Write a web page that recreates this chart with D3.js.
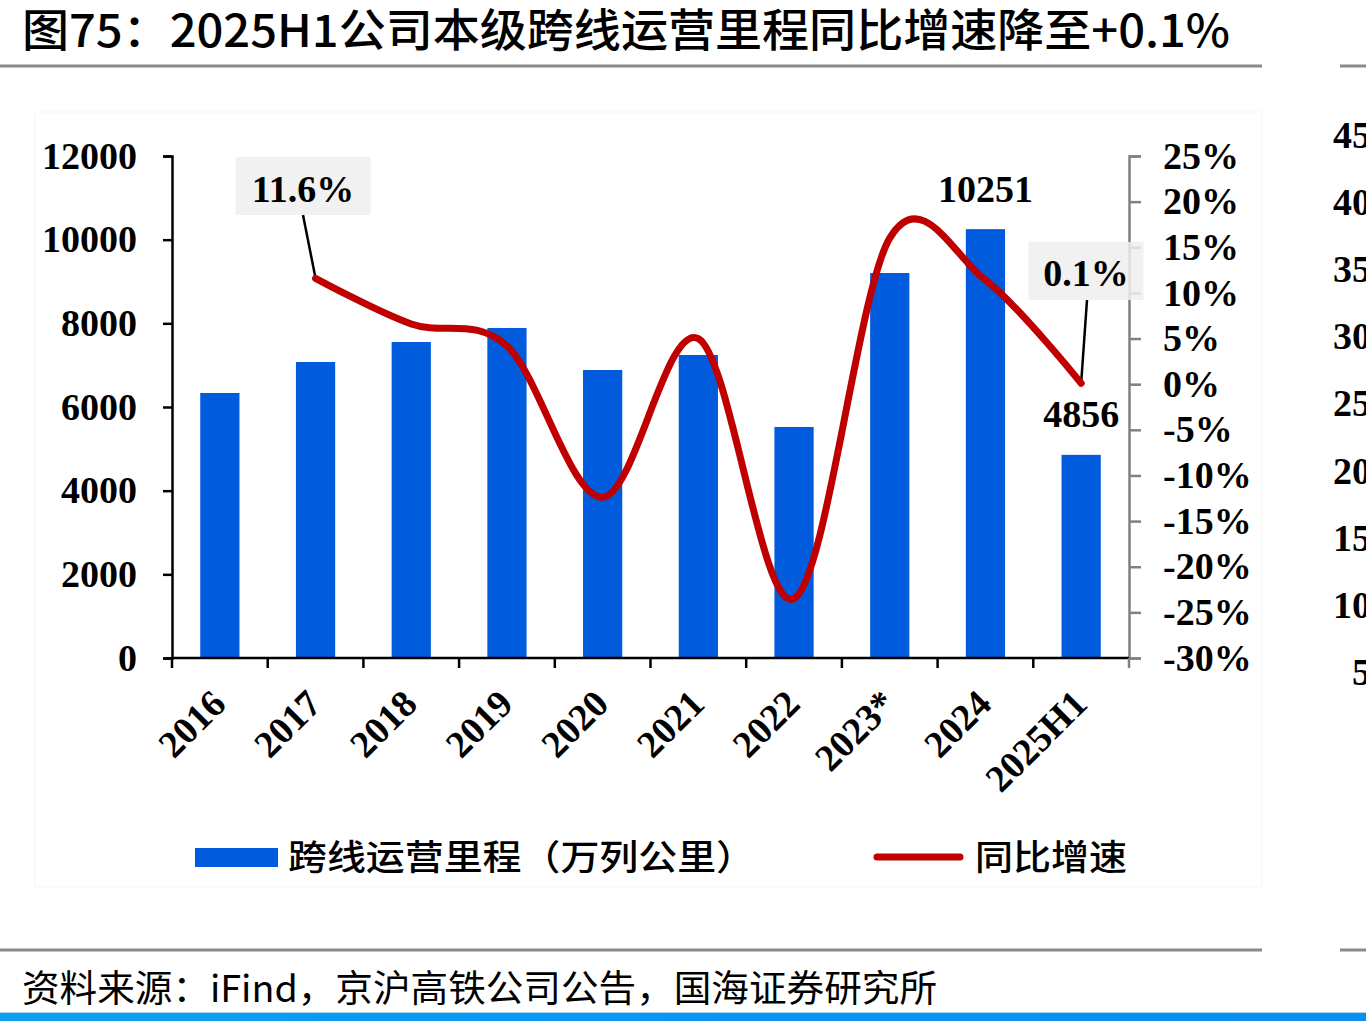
<!DOCTYPE html>
<html><head><meta charset="utf-8">
<script src="https://cdn.jsdelivr.net/npm/d3@7"></script>
<style>
html,body{margin:0;padding:0;background:#fff;overflow:hidden;}
svg{display:block;}
</style></head>
<body>
<svg id="c" width="1366" height="1021"></svg>
<script>
// ---- data ----
const categories = ["2016","2017","2018","2019","2020","2021","2022","2023*","2024","2025H1"];
const mileage = [6335, 7076, 7554, 7888, 6884, 7243, 5522, 9203, 10251, 4856];
const growth = [null, 0.116, 0.066, 0.042, -0.124, 0.050, -0.235, 0.160, 0.114, 0.001];
const leftTicks = [0, 2000, 4000, 6000, 8000, 10000, 12000];
const rightTicks = [-0.30, -0.25, -0.20, -0.15, -0.10, -0.05, 0, 0.05, 0.10, 0.15, 0.20, 0.25];
const nextChartTicks = ["45","40","35","30","25","20","15","10","5"];
const titleText = "图75：2025H1公司本级跨线运营里程同比增速降至+0.1%";
const sourceText = "资料来源：iFind，京沪高铁公司公告，国海证券研究所";
const legendBar = "跨线运营里程（万列公里）";
const legendLine = "同比增速";

const svg = d3.select("#c");
const serif = "'Liberation Serif','Times New Roman',serif";
const sans = "'Noto Sans CJK SC','Noto Sans',sans-serif";

// title & frame lines
svg.append("text").attr("x", 22).attr("y", 47).text(titleText)
  .attr("font-family", sans).attr("font-size", 45).attr("font-weight", 500)
  .attr("fill", "#000").attr("textLength", 1208).attr("lengthAdjust", "spacingAndGlyphs");
[[0,1262],[1340,1366]].forEach(([a,b]) => {
  svg.append("line").attr("x1", a).attr("x2", b).attr("y1", 66).attr("y2", 66).attr("stroke", "#8a8a8a").attr("stroke-width", 3);
  svg.append("line").attr("x1", a).attr("x2", b).attr("y1", 950).attr("y2", 950).attr("stroke", "#8a8a8a").attr("stroke-width", 3);
});
// chart area faint frame
svg.append("rect").attr("x", 35).attr("y", 112).attr("width", 1227).attr("height", 775)
  .attr("fill", "none").attr("stroke", "#f5f5f5").attr("stroke-width", 1);

// source
svg.append("text").attr("x", 22).attr("y", 1002).text(sourceText)
  .attr("font-family", sans).attr("font-size", 37).attr("fill", "#000")
  .attr("textLength", 915).attr("lengthAdjust", "spacingAndGlyphs");
// bottom blue bar
const grad = svg.append("defs").append("linearGradient").attr("id", "bb");
grad.append("stop").attr("offset", "0%").attr("stop-color", "#0aa0f0");
grad.append("stop").attr("offset", "100%").attr("stop-color", "#0a8ef0");
svg.append("rect").attr("x", 0).attr("y", 1013).attr("width", 1366).attr("height", 8).attr("fill", "url(#bb)");
svg.append("rect").attr("x", 0).attr("y", 1012).attr("width", 1366).attr("height", 1).attr("fill", "#9fd8f8");

// scales
const x = d3.scaleBand().domain(categories).range([172, 1129]).paddingInner(0.59).paddingOuter(0.295);
const yL = d3.scaleLinear().domain([0, 12000]).range([658, 156]);
const yR = d3.scaleLinear().domain([-0.30, 0.25]).range([658, 156]);
const cx = c => x(c) + x.bandwidth() / 2;

// bars
svg.append("g").selectAll("rect").data(categories).join("rect")
  .attr("x", c => x(c)).attr("width", x.bandwidth())
  .attr("y", (c, i) => yL(mileage[i])).attr("height", (c, i) => yL(0) - yL(mileage[i]))
  .attr("fill", "#005cdc");

// left axis
const gL = svg.append("g").attr("transform", "translate(172,0)")
  .call(d3.axisLeft(yL).tickValues(leftTicks).tickSize(9).tickPadding(26).tickFormat(d3.format("d")));
gL.select(".domain").attr("stroke", "#000").attr("stroke-width", 2.5);
gL.selectAll(".tick line").attr("stroke", "#000").attr("stroke-width", 2.5);
gL.selectAll(".tick text").attr("font-family", serif).attr("font-weight", "bold").attr("font-size", 38).attr("fill", "#000");

// right axis
const gR = svg.append("g").attr("transform", "translate(1129,0)")
  .call(d3.axisRight(yR).tickValues(rightTicks).tickSize(12).tickPadding(22)
    .tickFormat(v => (v < 0 ? "-" : "") + Math.round(Math.abs(v) * 100) + "%"));
gR.select(".domain").attr("stroke", "#808080").attr("stroke-width", 2.5);
gR.selectAll(".tick line").attr("stroke", "#808080").attr("stroke-width", 2.5);
gR.selectAll(".tick text").attr("font-family", serif).attr("font-weight", "bold").attr("font-size", 38).attr("fill", "#000");

// x axis
const step = x.step();
const edges = d3.range(categories.length + 1).map(i => x.range()[0] + i * step);
svg.append("line").attr("x1", 172).attr("x2", 1129).attr("y1", 658).attr("y2", 658).attr("stroke", "#000").attr("stroke-width", 2.5);
svg.append("g").selectAll("line").data(edges).join("line")
  .attr("x1", d => d).attr("x2", d => d).attr("y1", 658).attr("y2", 668)
  .attr("stroke", (d, i) => i === edges.length - 1 ? "#808080" : "#000").attr("stroke-width", 2.5);
svg.append("g").selectAll("text").data(categories).join("text")
  .attr("transform", c => `translate(${cx(c) + 8},${706}) rotate(-45)`)
  .attr("text-anchor", "end").text(c => c)
  .attr("font-family", serif).attr("font-weight", "bold").attr("font-size", 38).attr("fill", "#000");

// annotation boxes (behind line)
function box(cxp, top, w, h) {
  svg.append("rect").attr("x", cxp - w / 2).attr("y", top).attr("width", w).attr("height", h)
    .attr("fill", "#efefef").attr("fill-opacity", 0.85);
}
const i17 = 1, i25 = 9;
box(303, 157, 135, 58);
box(1086, 242, 115, 58);
// leader lines
svg.append("line").attr("x1", 303).attr("y1", 215).attr("x2", cx(categories[i17])).attr("y2", yR(growth[i17])).attr("stroke", "#000").attr("stroke-width", 2.5);
svg.append("line").attr("x1", 1087).attr("y1", 300).attr("x2", cx(categories[i25])).attr("y2", yR(growth[i25])).attr("stroke", "#000").attr("stroke-width", 2.5);

// growth line
const line = d3.line().defined(d => d.v !== null)
  .x(d => cx(d.c)).y(d => yR(d.v)).curve(d3.curveCardinal.tension(0));
svg.append("path").datum(categories.map((c, i) => ({c, v: growth[i]})))
  .attr("d", line).attr("fill", "none").attr("stroke", "#c00000").attr("stroke-width", 7)
  .attr("stroke-linecap", "round").attr("stroke-linejoin", "round");

// data labels
function lbl(t, xx, yy) {
  svg.append("text").attr("x", xx).attr("y", yy).attr("text-anchor", "middle").text(t)
    .attr("font-family", serif).attr("font-weight", "bold").attr("font-size", 38).attr("fill", "#000");
}
lbl((growth[i17] * 100).toFixed(1) + "%", 303, 202);
lbl((growth[i25] * 100).toFixed(1) + "%", 1086, 286);
lbl(String(mileage[8]), cx(categories[8]), 202);
lbl(String(mileage[9]), cx(categories[9]), 427);

// legend
svg.append("rect").attr("x", 195).attr("y", 848).attr("width", 83).attr("height", 19).attr("fill", "#005cdc");
svg.append("text").attr("x", 288).attr("y", 870).text(legendBar)
  .attr("font-family", sans).attr("font-size", 35).attr("font-weight", 500).attr("fill", "#000")
  .attr("textLength", 467).attr("lengthAdjust", "spacingAndGlyphs");
svg.append("line").attr("x1", 877).attr("x2", 960).attr("y1", 857).attr("y2", 857)
  .attr("stroke", "#c00000").attr("stroke-width", 7).attr("stroke-linecap", "round");
svg.append("text").attr("x", 975).attr("y", 870).text(legendLine)
  .attr("font-family", sans).attr("font-size", 35).attr("font-weight", 500).attr("fill", "#000")
  .attr("textLength", 152).attr("lengthAdjust", "spacingAndGlyphs");

// neighbouring chart's axis labels (cut by the page edge, as in the reference)
svg.append("g").selectAll("text").data(nextChartTicks).join("text")
  .attr("x", 1371).attr("y", (d, i) => 148 + i * 67.1).attr("text-anchor", "end").text(d => d)
  .attr("font-family", serif).attr("font-weight", "bold").attr("font-size", 38).attr("fill", "#000");
</script>
</body></html>
